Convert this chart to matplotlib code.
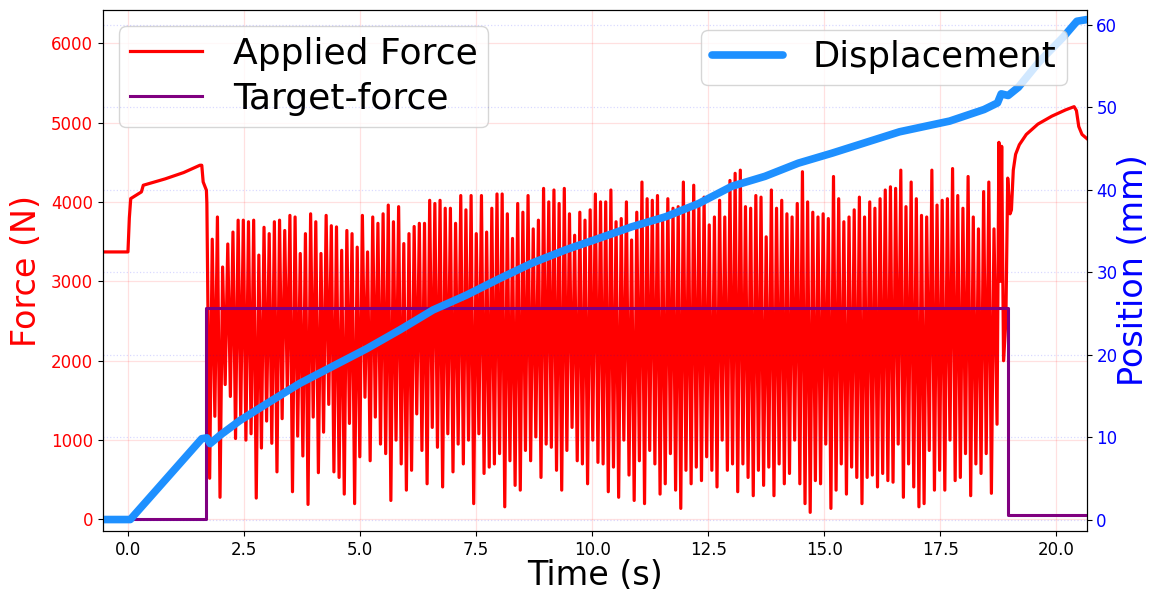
import numpy as np
import matplotlib
matplotlib.use("Agg")
import matplotlib.pyplot as plt

# ---------------- data ----------------
# Applied force before the oscillation (time s, force N)
pre_t = [-0.54, 0.00, 0.03, 0.06, 0.29, 0.33, 0.80, 1.20, 1.55, 1.59, 1.62, 1.69, 1.70]
pre_f = [3370, 3370, 3800, 4042, 4126, 4210, 4290, 4370, 4462, 4462, 4252, 4147, 3979]

# Oscillation phase: per-cycle troughs and peaks (N)
osc_t_start = 1.76
osc_t_end = 18.71
osc_troughs = [
    520, 1300, 280, 1700, 1550, 1020, 1290, 1000, 1080, 270, 900, 1240, 960, 600, 1270, 1600, 350, 1050, 800, 190, 1290, 590, 1100, 1450,
    600, 530, 320, 1210, 200, 790, 1540, 740, 1290, 950, 830, 240, 1000, 700, 370, 620, 1330, 870, 450, 1160, 910, 410, 1080, 600, 950, 700,
    1000, 200, 1080, 580, 660, 700, 830, 160, 740, 430, 370, 870, 740, 1040, 530, 950, 910, 620, 370, 870, 1160, 740, 700, 450, 1000, 720,
    700, 350, 660, 280, 1000, 560, 240, 740, 200, 870, 700, 320, 450, 830, 370, 140, 620, 450, 660, 490, 790, 620, 410, 1000, 620, 700,
    350, 700, 530, 300, 620, 430, 660, 300, 700, 450, 580, 1000, 450, 200, 90, 490, 450, 950, 140, 370, 700, 320, 660, 530, 200, 530,
    560, 410, 580, 490, 470, 950, 280, 700, 410, 160, 200, 870, 370, 620, 370, 1000, 490, 530, 830, 300, 700, 580, 830, 330,
]
osc_peaks = [
    3530, 3810, 3180, 3470, 3620, 3770, 3770, 3750, 3770, 3330, 3680, 3600, 3750, 3770, 3640, 3830, 3810, 3350, 3600, 3850, 3750, 3350, 3830, 3700,
    3685, 3390, 3640, 3600, 3430, 3830, 3370, 3810, 3730, 3850, 3960, 3750, 3940, 3475, 3600, 3690, 3730, 3730, 4020, 3980, 4020, 3920, 3920, 3730, 4080, 3900,
    4080, 3600, 4080, 3620, 3920, 4100, 4100, 3850, 3540, 3980, 3870, 4080, 3660, 3770, 4170, 4000, 4150, 3980, 4170, 3850, 3580, 3870, 3770, 3900, 4100, 4000,
    4000, 4150, 3750, 3790, 4000, 3520, 3870, 4250, 4040, 4020, 4080, 3770, 4040, 3920, 3940, 4250, 3900, 4210, 3980, 4060, 3710, 3810, 4020, 3810, 4270, 4360,
    4400, 3940, 3920, 4080, 4060, 3560, 4150, 3920, 4020, 3850, 3810, 3980, 4380, 4000, 3870, 3810, 3850, 3790, 4320, 4040, 3750, 3810, 3900, 4060, 3810, 4000,
    3920, 4040, 4150, 4190, 4170, 4400, 3940, 4250, 4040, 3830, 3810, 4400, 3960, 4020, 4040, 4420, 4080, 3920, 4320, 3810, 3660, 4130, 4250, 3660,
]

# Applied force after the oscillation
post_t = [18.72, 18.76, 18.79, 18.82, 18.86, 18.91, 18.95, 19.00, 19.03, 19.07, 19.12, 19.20, 19.35, 19.60, 19.90, 20.20, 20.38, 20.43, 20.48, 20.55, 20.65]
post_f = [1200, 4750, 3000, 4700, 2000, 2500, 4300, 3850, 3900, 4400, 4600, 4720, 4850, 4980, 5080, 5160, 5200, 5150, 4950, 4850, 4800]

# Target force (step)
target_t = [-0.54, 1.69, 1.69, 18.95, 18.95, 20.65]
target_f = [0, 0, 2670, 2670, 60, 60]

# Displacement (mm)
disp_t = [-0.54, 0.05, 1.59, 1.70, 1.77, 1.98, 2.41, 2.99, 3.70, 4.42, 5.14, 5.86, 6.57, 7.29, 8.00,
          8.71, 9.43, 10.15, 10.86, 11.58, 12.29, 13.01, 13.72, 14.44, 15.16, 16.62, 17.70, 18.44,
          18.73, 18.81, 18.96, 19.18, 19.63, 20.15, 20.44, 20.65]
disp_p = [0, 0, 9.8, 9.9, 9.2, 10.2, 12.0, 14.05, 16.5, 18.6, 20.7, 23.0, 25.4, 27.2, 29.2,
          31.1, 32.7, 34.1, 35.5, 36.7, 38.3, 40.4, 41.6, 43.2, 44.4, 47.0, 48.3, 49.7,
          50.5, 51.6, 51.4, 52.4, 55.5, 58.5, 60.4, 60.6]

# ---------------- build force series ----------------
n_cyc = len(osc_peaks)
dt = (osc_t_end - osc_t_start) / n_cyc
osc_t = []
osc_f = []
for i in range(n_cyc):
    osc_t += [osc_t_start + i * dt, osc_t_start + (i + 0.5) * dt]
    osc_f += [osc_troughs[i], osc_peaks[i]]
force_t = pre_t + osc_t + post_t
force_f = pre_f + osc_f + post_f

# ---------------- plot ----------------
fig = plt.figure(figsize=(11.56, 5.90), dpi=100)
ax1 = fig.add_axes([0.089, 0.100, 0.851, 0.883])
ax2 = ax1.twinx()

l1, = ax1.plot(force_t, force_f, color='red', lw=2.3, label='Applied Force', zorder=2)
l2, = ax1.plot(target_t, target_f, color='purple', lw=2.2, label='Target-force', zorder=3)
l3, = ax2.plot(disp_t, disp_p, color='#1E90FF', lw=5.5, label='Displacement',
               solid_capstyle='round', solid_joinstyle='round')

ax1.set_xlim(-0.54, 20.65)
ax1.set_ylim(-145, 6417)
ax2.set_ylim(-1.39, 61.76)
ax1.set_yticks([0, 1000, 2000, 3000, 4000, 5000, 6000])
ax2.set_yticks([0, 10, 20, 30, 40, 50, 60])
ax1.set_xticks([0, 2.5, 5, 7.5, 10, 12.5, 15, 17.5, 20])
ax1.set_xticklabels(['0.0', '2.5', '5.0', '7.5', '10.0', '12.5', '15.0', '17.5', '20.0'])

ax1.grid(True, color='red', alpha=0.12, lw=0.9)
ax2.grid(True, color='blue', alpha=0.15, lw=0.9, linestyle=':')

ax1.tick_params(axis='y', labelcolor='red', labelsize=12)
ax1.tick_params(axis='x', labelsize=12)
ax2.tick_params(axis='y', labelcolor='blue', labelsize=12)

ax1.set_xlabel('Time (s)', fontsize=24, labelpad=0)
ax1.set_ylabel('Force (N)', fontsize=24, color='red', labelpad=6)
ax2.set_ylabel('Position (mm)', fontsize=24, color='blue', labelpad=0)

ax1.legend(handles=[l1, l2], loc='upper left', fontsize=26, borderaxespad=0.45,
           borderpad=0.3, labelspacing=0.3, handletextpad=0.85)
ax2.legend(handles=[l3], loc='upper right', fontsize=25.5, borderaxespad=0.55,
           borderpad=0.3, handletextpad=0.85)

fig.savefig('out.png', dpi=100)
